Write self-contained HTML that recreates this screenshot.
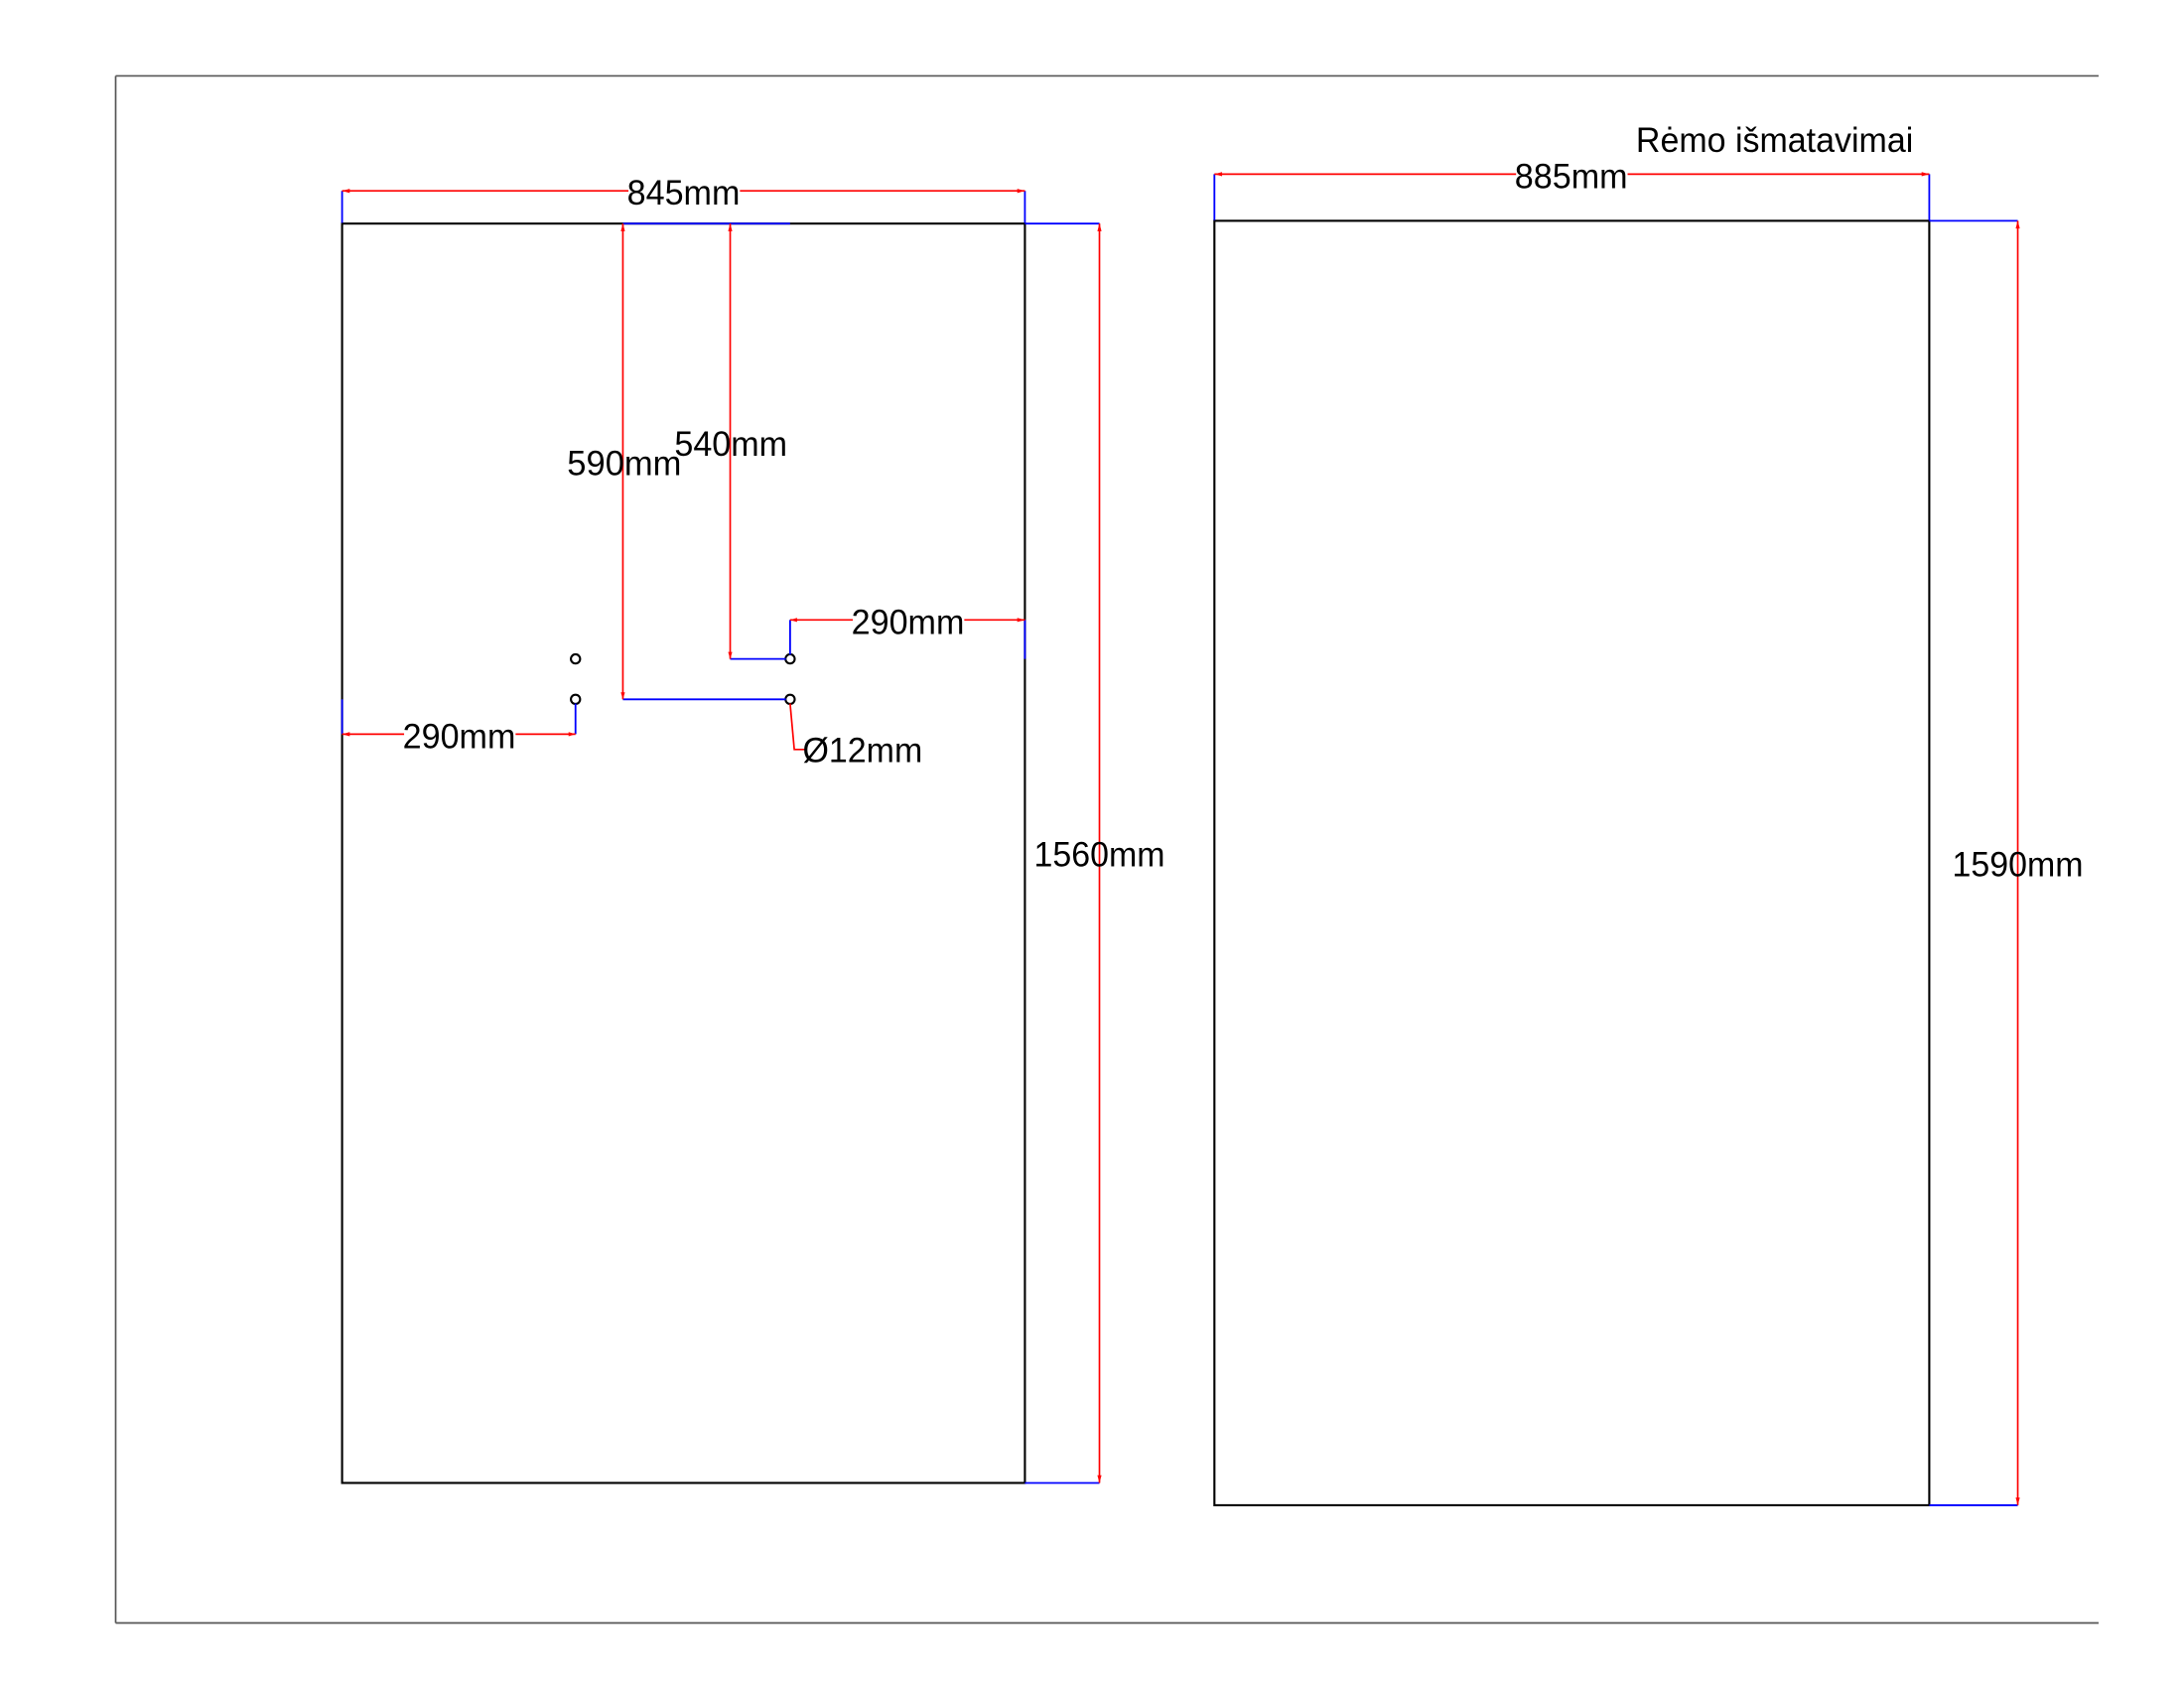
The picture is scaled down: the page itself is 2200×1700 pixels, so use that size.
<!DOCTYPE html>
<html><head><meta charset="utf-8"><style>
html,body{margin:0;padding:0;background:#fff;}
svg{display:block;}
text{font-family:"Liberation Sans",sans-serif;font-size:25px;fill:#000;}
</style></head><body>
<svg width="2200" height="1700" viewBox="0 0 1567.3 1211.7" preserveAspectRatio="none" xmlns="http://www.w3.org/2000/svg">
<g stroke="#555" stroke-width="1.2" fill="none">
<line x1="83" y1="54.5" x2="1506" y2="54.5"/>
<line x1="83" y1="1165" x2="1506" y2="1165"/>
<line x1="83" y1="54.5" x2="83" y2="1165"/>
</g>
<g stroke="#000" stroke-width="1.5" fill="none">
<rect x="245.5" y="160.5" width="490" height="904"/>
<rect x="871.5" y="158.5" width="513" height="922"/>
<circle cx="413" cy="473" r="3.3"/>
<circle cx="413" cy="502" r="3.3"/>
<circle cx="567" cy="473" r="3.3"/>
<circle cx="567" cy="502" r="3.3"/>
</g>
<g stroke="#0000ff" stroke-width="1.3" fill="none">
<line x1="245.5" y1="137" x2="245.5" y2="160"/>
<line x1="735.5" y1="137" x2="735.5" y2="160"/>
<line x1="447" y1="160.5" x2="567" y2="160.5"/>
<line x1="735.5" y1="160.5" x2="789" y2="160.5"/>
<line x1="735.5" y1="1064.5" x2="789" y2="1064.5"/>
<line x1="447" y1="502" x2="564" y2="502"/>
<line x1="524" y1="473" x2="564" y2="473"/>
<line x1="567" y1="445" x2="567" y2="470"/>
<line x1="735.5" y1="445" x2="735.5" y2="473"/>
<line x1="413" y1="505" x2="413" y2="527"/>
<line x1="245.5" y1="502" x2="245.5" y2="527"/>
<line x1="871.5" y1="125" x2="871.5" y2="158"/>
<line x1="1384.5" y1="125" x2="1384.5" y2="158"/>
<line x1="1384.5" y1="158.5" x2="1448" y2="158.5"/>
<line x1="1384.5" y1="1080.5" x2="1448" y2="1080.5"/>
</g>
<g stroke="#ff0000" stroke-width="1.2" fill="none">
<line x1="245.5" y1="137" x2="735.5" y2="137"/>
<line x1="789" y1="160.5" x2="789" y2="1064.5"/>
<line x1="447" y1="160.5" x2="447" y2="502"/>
<line x1="524" y1="160.5" x2="524" y2="473"/>
<line x1="567" y1="445" x2="735.5" y2="445"/>
<line x1="245.5" y1="527" x2="413" y2="527"/>
<polyline points="567,505 570,538 578,538"/>
<line x1="871.5" y1="125" x2="1384.5" y2="125"/>
<line x1="1448" y1="158.5" x2="1448" y2="1080.5"/>
</g>
<g fill="#ff0000">
<polygon points="245.5,137 251,135.5 251,138.5"/>
<polygon points="735.5,137 730,135.5 730,138.5"/>
<polygon points="789,160.5 787.5,166 790.5,166"/>
<polygon points="789,1064.5 787.5,1059 790.5,1059"/>
<polygon points="447,160.5 445.5,166 448.5,166"/>
<polygon points="447,502 445.5,497 448.5,497"/>
<polygon points="524,160.5 522.5,166 525.5,166"/>
<polygon points="524,473 522.5,468 525.5,468"/>
<polygon points="567,445 572,443.5 572,446.5"/>
<polygon points="735.5,445 730,443.5 730,446.5"/>
<polygon points="245.5,527 251,525.5 251,528.5"/>
<polygon points="413,527 408,525.5 408,528.5"/>
<polygon points="871.5,125 877,123.5 877,126.5"/>
<polygon points="1384.5,125 1379,123.5 1379,126.5"/>
<polygon points="1448,158.5 1446.5,164 1449.5,164"/>
<polygon points="1448,1080.5 1446.5,1075 1449.5,1075"/>
</g>
<g>
<rect x="451" y="126" width="80" height="22" fill="#fff"/>
<text x="450" y="147" textLength="81" lengthAdjust="spacingAndGlyphs">845mm</text>
<text x="742" y="622" textLength="94" lengthAdjust="spacingAndGlyphs">1560mm</text>
<text x="407" y="341" textLength="82" lengthAdjust="spacingAndGlyphs">590mm</text>
<text x="484" y="327" textLength="81" lengthAdjust="spacingAndGlyphs">540mm</text>
<rect x="612" y="434" width="80" height="22" fill="#fff"/>
<text x="611" y="455" textLength="81" lengthAdjust="spacingAndGlyphs">290mm</text>
<rect x="290" y="516" width="80" height="22" fill="#fff"/>
<text x="289" y="537" textLength="81" lengthAdjust="spacingAndGlyphs">290mm</text>
<text x="576" y="547" textLength="86" lengthAdjust="spacingAndGlyphs">Ø12mm</text>
<text x="1174" y="109" textLength="199" lengthAdjust="spacingAndGlyphs">Rėmo išmatavimai</text>
<rect x="1088" y="114" width="80" height="22" fill="#fff"/>
<text x="1087" y="135" textLength="81" lengthAdjust="spacingAndGlyphs">885mm</text>
<text x="1401" y="629" textLength="94" lengthAdjust="spacingAndGlyphs">1590mm</text>
</g>
</svg>
</body></html>
